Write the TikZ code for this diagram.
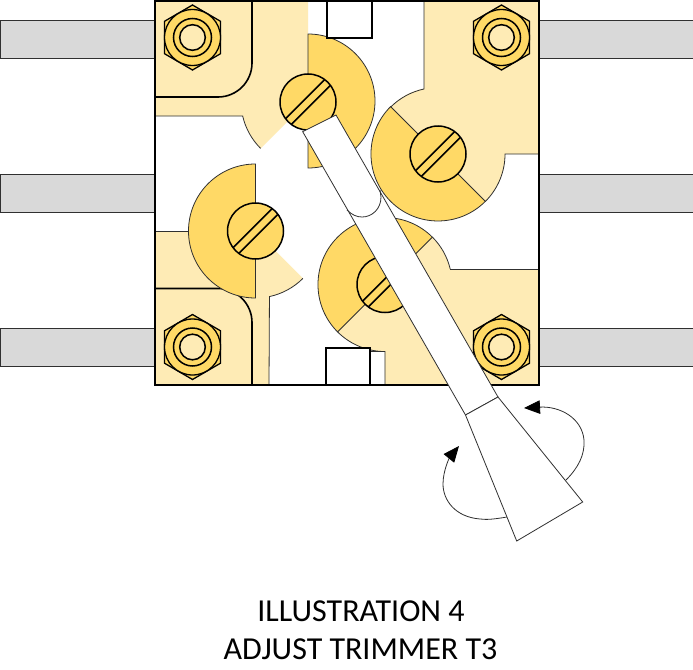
\documentclass[tikz,border=0pt]{standalone}
\usepackage{fontspec}
\setmainfont{Carlito}
\usetikzlibrary{arrows.meta}
\definecolor{pale}{HTML}{FEEBB5}
\definecolor{gold}{HTML}{FFD966}
\definecolor{tabgray}{HTML}{D9D9D9}
\definecolor{edge}{HTML}{303030}
\tikzset{
  tab/.style={fill=tabgray,draw=edge,line width=0.7pt},
  plate/.style={fill=pale,draw=none},
  sector/.style={fill=gold,draw=edge,line width=0.8pt},
  thinline/.style={draw=edge,line width=0.8pt},
  heavy/.style={draw=black,line width=1.6pt},
  tool/.style={fill=white,draw=edge,line width=0.8pt,line join=miter},
  turn/.style={draw=edge,line width=0.8pt,-{Triangle[length=16pt,width=13.5pt,color=black]}},
  caption/.style={anchor=base,font=\fontsize{32}{36}\selectfont,inner sep=0pt}
}
\newcommand{\trimnut}[2]{%
  \draw[fill=gold,draw=black,line width=1.3pt] (#1,#2-32.5) -- (#1+28,#2-16.2) -- (#1+28,#2+16.2) -- (#1,#2+32.5) -- (#1-28,#2+16.2) -- (#1-28,#2-16.2) -- cycle;
  \draw[fill=gold,draw=black,line width=1.3pt] (#1,#2) circle[radius=28];
  \draw[draw=black,line width=1.5pt] (#1,#2) circle[radius=19];
  \draw[fill=pale,draw=black,line width=1.5pt] (#1,#2) circle[radius=12.8];
}
\newcommand{\trimscrew}[2]{%
  \draw[fill=gold,draw=black,line width=1.5pt] (#1,#2) circle[radius=28];
  \draw[draw=black,line width=1.5pt] (#1+2.9-19.6,#2+2.9+19.6) -- (#1+2.9+19.6,#2+2.9-19.6);
  \draw[draw=black,line width=1.5pt] (#1-2.9-19.6,#2-2.9+19.6) -- (#1-2.9+19.6,#2-2.9-19.6);
}
\begin{document}
\begin{tikzpicture}[x=1pt,y=-1pt]
\useasboundingbox (0,0) rectangle (693,669);
\fill[white] (0,0) rectangle (693,669);
% terminals
\foreach \yy in {20,174,328}{
  \draw[tab] (0,\yy) rectangle (155,\yy+38);
  \draw[tab] (539,\yy) rectangle (693,\yy+38);
}
% base
\fill[white] (155,1) rectangle (539,385);
% pale plates
\path[plate] (155,1) -- (308,1) -- (308,101) -- (260.6,148.4) arc[start angle=135,end angle=167,radius=67] -- (155,116) -- cycle;
\path[plate] (424,1) -- (539,1) -- (539,154) -- (505,154) arc[start angle=0,end angle=45,radius=67] -- (438,154) -- (390.6,106.6) arc[start angle=225,end angle=258,radius=67] -- cycle;
\path[plate] (155,231) -- (255.5,231) -- (302.9,278.4) arc[start angle=45,end angle=78,radius=67] -- (269,385) -- (155,385) -- cycle;
\path[plate] (539,269) -- (450.2,269) arc[start angle=346.6,end angle=315,radius=67] -- (385,284.5) -- (337.6,331.9) arc[start angle=135,end angle=90,radius=67] -- (385,385) -- (539,385) -- cycle;
% plate edges
\draw[thinline] (260.6,148.4) arc[start angle=135,end angle=167,radius=67] -- (155,116);
\draw[thinline] (424,1) -- (424,89) arc[start angle=258,end angle=225,radius=67];
\draw[thinline] (485.4,201.4) arc[start angle=45,end angle=0,radius=67] -- (539,154);
\draw[thinline] (302.9,278.4) arc[start angle=45,end angle=78,radius=67] -- (269,385);
\draw[thinline] (155,231) -- (190,231);
\draw[thinline] (450.2,269) -- (539,269);
\draw[thinline] (432.4,237.1) arc[start angle=315,end angle=346.6,radius=67];
\draw[thinline] (337.6,331.9) arc[start angle=135,end angle=90,radius=67] -- (385,385) -- (370,385);
\draw[thinline] (370,351.5) -- (385,351.5);
% inner rounded lines
\draw[heavy] (252,1) -- (252,63) arc[start angle=0,end angle=90,radius=34] -- (155,97);
\draw[heavy] (155,288.5) -- (218,288.5) arc[start angle=-90,end angle=0,radius=34] -- (252,385);
% gold half discs
\draw[sector] (308,34) arc[start angle=-90,end angle=90,radius=67] -- cycle;
\draw[sector] (390.6,106.6) arc[start angle=225,end angle=45,radius=67] -- cycle;
\draw[sector] (255.5,298) arc[start angle=90,end angle=270,radius=67] -- cycle;
\draw[sector] (337.6,331.9) arc[start angle=135,end angle=315,radius=67] -- cycle;
% boxes
\draw[fill=white,draw=black,line width=1.7pt] (327,1) rectangle (372,38);
\draw[fill=white,draw=black,line width=1.7pt] (326,348) rectangle (370,385);
% frame
\draw[draw=black,line width=1.15pt] (155,1) rectangle (539,385);
% nuts
\trimnut{192.5}{37.5}
\trimnut{501.5}{37.5}
\trimnut{192.5}{347}
\trimnut{501.5}{347}
% screws
\trimscrew{308}{102}
\trimscrew{438}{154}
\trimscrew{255.5}{231}
\trimscrew{385}{284.5}
% arrows
\draw[turn] (566,480) .. controls (578,468) and (585,455) .. (584,440) .. controls (582,418) and (560,406) .. (524,408);
\draw[turn] (507,517) .. controls (495,519) and (487,520) .. (480,519) .. controls (455,517) and (443,500) .. (443,484) .. controls (443,470) and (450,457) .. (459,446);
% screwdriver
\path[tool] (302.7,131.7) -- (336,115) -- (498,397) -- (465.5,415) -- cycle;
\draw[tool] (465.5,415) -- (516.7,541) -- (582.7,502) -- (498,397) -- cycle;
\draw[thinline] (347,210) .. controls (352,215) and (357,217) .. (362,217) .. controls (372,217) and (381,209) .. (381,197) -- (380,190);
% caption
\node[caption] (line1) at (361,621.5) {ILLUSTRATION 4};
\node[caption] (line2) at (360.5,659) {ADJUST TRIMMER T3};
\end{tikzpicture}
\end{document}
